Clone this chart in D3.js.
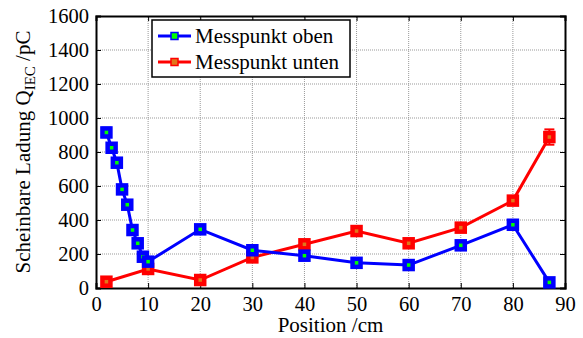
<!DOCTYPE html>
<html>
<head>
<meta charset="utf-8">
<script src="https://cdn.jsdelivr.net/npm/d3@7"></script>
<style>
  body { margin: 0; background: #fff; }
  svg text { font-family: "Liberation Serif", "DejaVu Serif", serif; }
</style>
</head>
<body>
<div id="chart"></div>
<script>
// Data
const obenX   = [2, 3, 4, 5, 6, 7, 8, 9, 10, 20, 30, 40, 50, 60, 70, 80, 87];
const obenY   = [915, 825, 737, 580, 490, 341, 263, 184, 155, 345, 222, 190, 148, 135, 251, 372, 33];
const obenErr = [28, 12, 10, 18, 10, 18, 12, 10, 8, 10, 10, 8, 8, 8, 12, 22, 8];
const untenX   = [2, 10, 20, 30, 40, 50, 60, 70, 80, 87];
const untenY   = [37, 112, 47, 180, 257, 335, 263, 355, 514, 888];
const untenErr = [8, 12, 8, 18, 10, 20, 10, 12, 18, 45];
const xTicks = [0, 10, 20, 30, 40, 50, 60, 70, 80, 90];
const yTicks = [0, 200, 400, 600, 800, 1000, 1200, 1400, 1600];

const SERIF = '"Liberation Serif", "DejaVu Serif", serif';
const W = 583, H = 338;
const m = {left: 96, right: 18, top: 16, bottom: 50};

svg = d3.select('#chart')
    .append('svg')
    .attr("width", W)
    .attr("height", H);

const x = d3.scaleLinear().domain([0, 90]).range([m.left, W - m.right]);
const y = d3.scaleLinear().domain([0, 1600]).range([H - m.bottom, m.top]);

// Grid
svg.append("g").selectAll("line").data(xTicks.slice(1, -1)).join("line")
    .attr("x1", d => x(d)).attr("x2", d => x(d))
    .attr("y1", y(0)).attr("y2", y(1600))
    .style("stroke", "#999").style("stroke-width", 1).style("stroke-dasharray", "1,1");
svg.append("g").selectAll("line").data(yTicks.slice(1, -1)).join("line")
    .attr("y1", d => y(d)).attr("y2", d => y(d))
    .attr("x1", x(0)).attr("x2", x(90))
    .style("stroke", "#999").style("stroke-width", 1).style("stroke-dasharray", "1,1");

// Axes (ticks inward)
const fmt = d3.format("d");
const xb = svg.append("g").attr("transform", `translate(0,${y(0)})`)
    .call(d3.axisBottom(x).tickValues(xTicks).tickSize(-5).tickPadding(8).tickFormat(fmt));
const xt = svg.append("g").attr("transform", `translate(0,${y(1600)})`)
    .call(d3.axisTop(x).tickValues(xTicks).tickSize(-5).tickFormat(""));
const yl = svg.append("g").attr("transform", `translate(${x(0)},0)`)
    .call(d3.axisLeft(y).tickValues(yTicks).tickSize(-5).tickPadding(7).tickFormat(fmt));
const yr = svg.append("g").attr("transform", `translate(${x(90)},0)`)
    .call(d3.axisRight(y).tickValues(yTicks).tickSize(-5).tickFormat(""));

[xb, xt, yl, yr].forEach(g => {
    g.attr("font-family", SERIF).attr("font-size", 20.5);
    g.select(".domain").style("stroke", "#000").style("stroke-width", 2);
    g.selectAll(".tick line").style("stroke", "#000").style("stroke-width", 1);
    g.selectAll(".tick text").style("fill", "#000");
});

// Series
function drawSeries(xs, ys, errs, color, face) {
    const pts = xs.map((d, i) => ({x: d, y: ys[i], e: errs[i]}));
    const line = d3.line().x(d => x(d.x)).y(d => y(d.y));
    svg.append("path").datum(pts)
        .attr("d", line)
        .style("fill", "none")
        .style("stroke", color)
        .style("stroke-width", 3);
    const g = svg.append("g");
    // error bars
    g.selectAll("line.err").data(pts).join("line")
        .attr("class", "err")
        .attr("x1", d => x(d.x)).attr("x2", d => x(d.x))
        .attr("y1", d => y(d.y - d.e)).attr("y2", d => y(d.y + d.e))
        .style("stroke", color).style("stroke-width", 2);
    g.selectAll("line.capT").data(pts).join("line")
        .attr("class", "capT")
        .attr("x1", d => x(d.x) - 5).attr("x2", d => x(d.x) + 5)
        .attr("y1", d => y(d.y + d.e)).attr("y2", d => y(d.y + d.e))
        .style("stroke", color).style("stroke-width", 2);
    g.selectAll("line.capB").data(pts).join("line")
        .attr("class", "capB")
        .attr("x1", d => x(d.x) - 5).attr("x2", d => x(d.x) + 5)
        .attr("y1", d => y(d.y - d.e)).attr("y2", d => y(d.y - d.e))
        .style("stroke", color).style("stroke-width", 2);
    g.selectAll("rect").data(pts).join("rect")
        .attr("x", d => x(d.x) - 4).attr("y", d => y(d.y) - 4)
        .attr("width", 8).attr("height", 8)
        .style("fill", face)
        .style("stroke", color)
        .style("stroke-width", 4.5);
}

drawSeries(untenX, untenY, untenErr, "#ff0000", "#e0761a");
drawSeries(obenX, obenY, obenErr, "#0000ff", "#00ff00");

// Legend
const leg = svg.append("g");
leg.append("rect")
    .attr("x", 152).attr("y", 20)
    .attr("width", 198).attr("height", 57)
    .style("fill", "#fff").style("stroke", "#000").style("stroke-width", 1.5);
const legItems = [
    {name: "Messpunkt oben", color: "#0000ff", face: "#00ff00", yy: 36},
    {name: "Messpunkt unten", color: "#ff0000", face: "#e0761a", yy: 62}
];
legItems.forEach(d => {
    leg.append("line")
        .attr("x1", 158).attr("x2", 191)
        .attr("y1", d.yy).attr("y2", d.yy)
        .style("stroke", d.color).style("stroke-width", 3);
    leg.append("rect")
        .attr("x", 171).attr("y", d.yy - 3.5)
        .attr("width", 7).attr("height", 7)
        .style("fill", d.face).style("stroke", d.color).style("stroke-width", 1.5);
    leg.append("text")
        .text(d.name)
        .attr("x", 195).attr("y", d.yy + 7)
        .attr("font-family", SERIF)
        .attr("font-size", 21);
});

// Axis labels
svg.append("text")
    .text("Position /cm")
    .attr("x", (x(0) + x(90)) / 2)
    .attr("y", 332)
    .attr("text-anchor", "middle")
    .attr("font-family", SERIF)
    .attr("font-size", 21);

const yt = svg.append("text")
    .attr("transform", `translate(30,${(y(0) + y(1600)) / 2}) rotate(-90)`)
    .attr("text-anchor", "middle")
    .attr("font-family", SERIF)
    .attr("font-size", 21);
yt.append("tspan").text("Scheinbare Ladung Q");
yt.append("tspan").text("IEC").attr("dy", 5).attr("font-size", 15);
yt.append("tspan").text(" /pC").attr("dy", -5);
</script>
</body>
</html>
